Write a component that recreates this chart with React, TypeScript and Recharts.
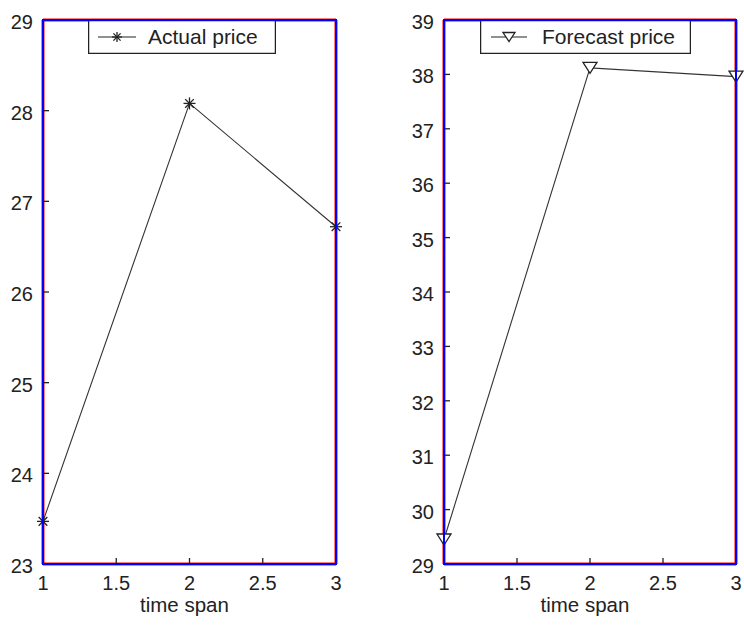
import React from 'react';
import { LineChart, Line, XAxis, YAxis, Legend, ReferenceLine } from 'recharts';

const timeSpan = [1, 2, 3];
const actualPrice = [23.47, 28.08, 26.72];
const forecastPrice = [29.45, 38.12, 37.96];
const xTicks = [1, 1.5, 2, 2.5, 3];
const actualTicks = [23, 24, 25, 26, 27, 28, 29];
const forecastTicks = [29, 30, 31, 32, 33, 34, 35, 36, 37, 38, 39];

const actualData = timeSpan.map((t, i) => ({ t, v: actualPrice[i] }));
const forecastData = timeSpan.map((t, i) => ({ t, v: forecastPrice[i] }));

const INK = '#222';
const FONT = '"Liberation Sans", Arial, sans-serif';
const TL = 6;

const StarMark = ({ cx, cy, r = 6 }: any) => {
  const d = r * 0.72;
  return (
    <g stroke={INK} strokeWidth={1.3}>
      <line x1={cx - r} y1={cy} x2={cx + r} y2={cy} />
      <line x1={cx} y1={cy - r} x2={cx} y2={cy + r} />
      <line x1={cx - d} y1={cy - d} x2={cx + d} y2={cy + d} />
      <line x1={cx - d} y1={cy + d} x2={cx + d} y2={cy - d} />
    </g>
  );
};

const TriMark = ({ cx, cy, w = 14, h = 11 }: any) => (
  <polygon
    points={`${cx - w / 2},${cy - h / 2} ${cx + w / 2},${cy - h / 2} ${cx},${cy + h / 2}`}
    fill="white"
    stroke={INK}
    strokeWidth={1.3}
  />
);

const fmt = (v: number) => String(v);

const BottomTick = (p: any) => (
  <g>
    <line x1={p.x} x2={p.x} y1={p.y} y2={p.y - TL} stroke={INK} strokeWidth={1.3} />
    <text x={p.x} y={p.y + 26} textAnchor="middle" fill={INK} fontSize={20} fontFamily={FONT}>
      {fmt(p.payload.value)}
    </text>
  </g>
);
const TopTick = (p: any) => (
  <line x1={p.x} x2={p.x} y1={p.y} y2={p.y + TL} stroke={INK} strokeWidth={1.3} />
);
const LeftTick = (p: any) => (
  <g>
    <line x1={p.x} x2={p.x + TL} y1={p.y} y2={p.y} stroke={INK} strokeWidth={1.3} />
    <text x={p.x - 10} y={p.y + 9} textAnchor="end" fill={INK} fontSize={20} fontFamily={FONT}>
      {fmt(p.payload.value)}
    </text>
  </g>
);
const RightTick = (p: any) => (
  <line x1={p.x} x2={p.x - TL} y1={p.y} y2={p.y} stroke={INK} strokeWidth={1.3} />
);

const xLabel = (props: any) => {
  const vb = props.viewBox;
  return (
    <text x={vb.x + vb.width / 2 - 5} y={612} textAnchor="middle" fill={INK} fontSize={20.5} fontFamily={FONT}>
      time span
    </text>
  );
};

const legendBox = (w: number, h: number, lineX1: number, lineX2: number, textX: number, text: string, kind: 'star' | 'tri') => () => (
  <div style={{ width: w, height: h, position: 'relative' }}>
    <svg width={w} height={h} style={{ display: 'block' }}>
      <rect x={0.6} y={0.6} width={w - 1.2} height={h - 1.2} fill="white" stroke={INK} strokeWidth={1.3} />
      <line x1={lineX1} x2={lineX2} y1={h / 2} y2={h / 2} stroke={INK} strokeWidth={1.2} />
      {kind === 'star' ? (
        <StarMark cx={(lineX1 + lineX2) / 2} cy={h / 2} r={5} />
      ) : (
        <TriMark cx={(lineX1 + lineX2) / 2} cy={h / 2} w={12} h={9} />
      )}
      <text x={textX} y={h / 2 + 7} fill={INK} fontSize={21} fontFamily={FONT}>
        {text}
      </text>
    </svg>
  </div>
);

const axisCommon = {
  tickSize: 0,
  tickMargin: 0,
  tickLine: false,
  axisLine: false,
  interval: 0 as const,
};

const frameProps = { xAxisId: 'b', yAxisId: 'l', stroke: 'red', strokeWidth: 3, ifOverflow: 'visible' as const };

const Panel = ({ data, yTicks, yDomain, leftW, rightW, kind, legend, legendLeft }: any) => (
  <LineChart width={372} height={626} data={data} margin={{ top: 20, right: 0, bottom: 0, left: 0 }}>
    <XAxis xAxisId="b" dataKey="t" type="number" domain={[1, 3]} ticks={xTicks} height={62} tick={BottomTick} label={xLabel} {...axisCommon} />
    <XAxis xAxisId="t" orientation="top" dataKey="t" type="number" domain={[1, 3]} ticks={xTicks} height={0} tick={TopTick} {...axisCommon} />
    <YAxis yAxisId="l" type="number" domain={yDomain} ticks={yTicks} width={leftW} tick={LeftTick} {...axisCommon} />
    <YAxis yAxisId="r" orientation="right" type="number" domain={yDomain} ticks={yTicks} width={rightW} tick={RightTick} {...axisCommon} />
    <ReferenceLine {...frameProps} x={1} />
    <ReferenceLine {...frameProps} x={3} />
    <ReferenceLine {...frameProps} y={yDomain[0]} />
    <ReferenceLine {...frameProps} y={yDomain[1]} />
    <Legend layout="horizontal" verticalAlign="middle" align="center" content={legend} wrapperStyle={{ left: legendLeft, top: 20, width: 'auto', height: 'auto' }} />
    <Line
      xAxisId="b"
      yAxisId="l"
      dataKey="v"
      stroke="#333"
      strokeWidth={1.1}
      isAnimationActive={false}
      dot={(p: any) =>
        kind === 'star' ? <StarMark key={p.index} cx={p.cx} cy={p.cy} /> : <TriMark key={p.index} cx={p.cx} cy={p.cy} />
      }
      activeDot={false}
    />
  </LineChart>
);

const frameStyle = (left: number, width: number): React.CSSProperties => ({
  position: 'absolute',
  left,
  top: 19,
  width,
  height: 546,
  boxSizing: 'border-box',
  border: '2px solid blue',
  pointerEvents: 'none',
});

export default function App() {
  return (
    <div style={{ position: 'absolute', left: 0, top: 0, width: 744, height: 626, background: 'white' }}>
      <div style={{ position: 'absolute', left: 0, top: 0 }}>
        <Panel data={actualData} yTicks={actualTicks} yDomain={[23, 29]} leftW={43} rightW={36} kind="star" legendLeft={88}
          legend={legendBox(188, 34, 10, 48, 60, 'Actual price', 'star')} />
      </div>
      <div style={{ position: 'absolute', left: 372, top: 0 }}>
        <Panel data={forecastData} yTicks={forecastTicks} yDomain={[29, 39]} leftW={72} rightW={8} kind="tri" legendLeft={108}
          legend={legendBox(211, 34, 11, 47, 62, 'Forecast price', 'tri')} />
      </div>
      <div style={frameStyle(42, 295)} />
      <div style={frameStyle(443, 294)} />
    </div>
  );
}
